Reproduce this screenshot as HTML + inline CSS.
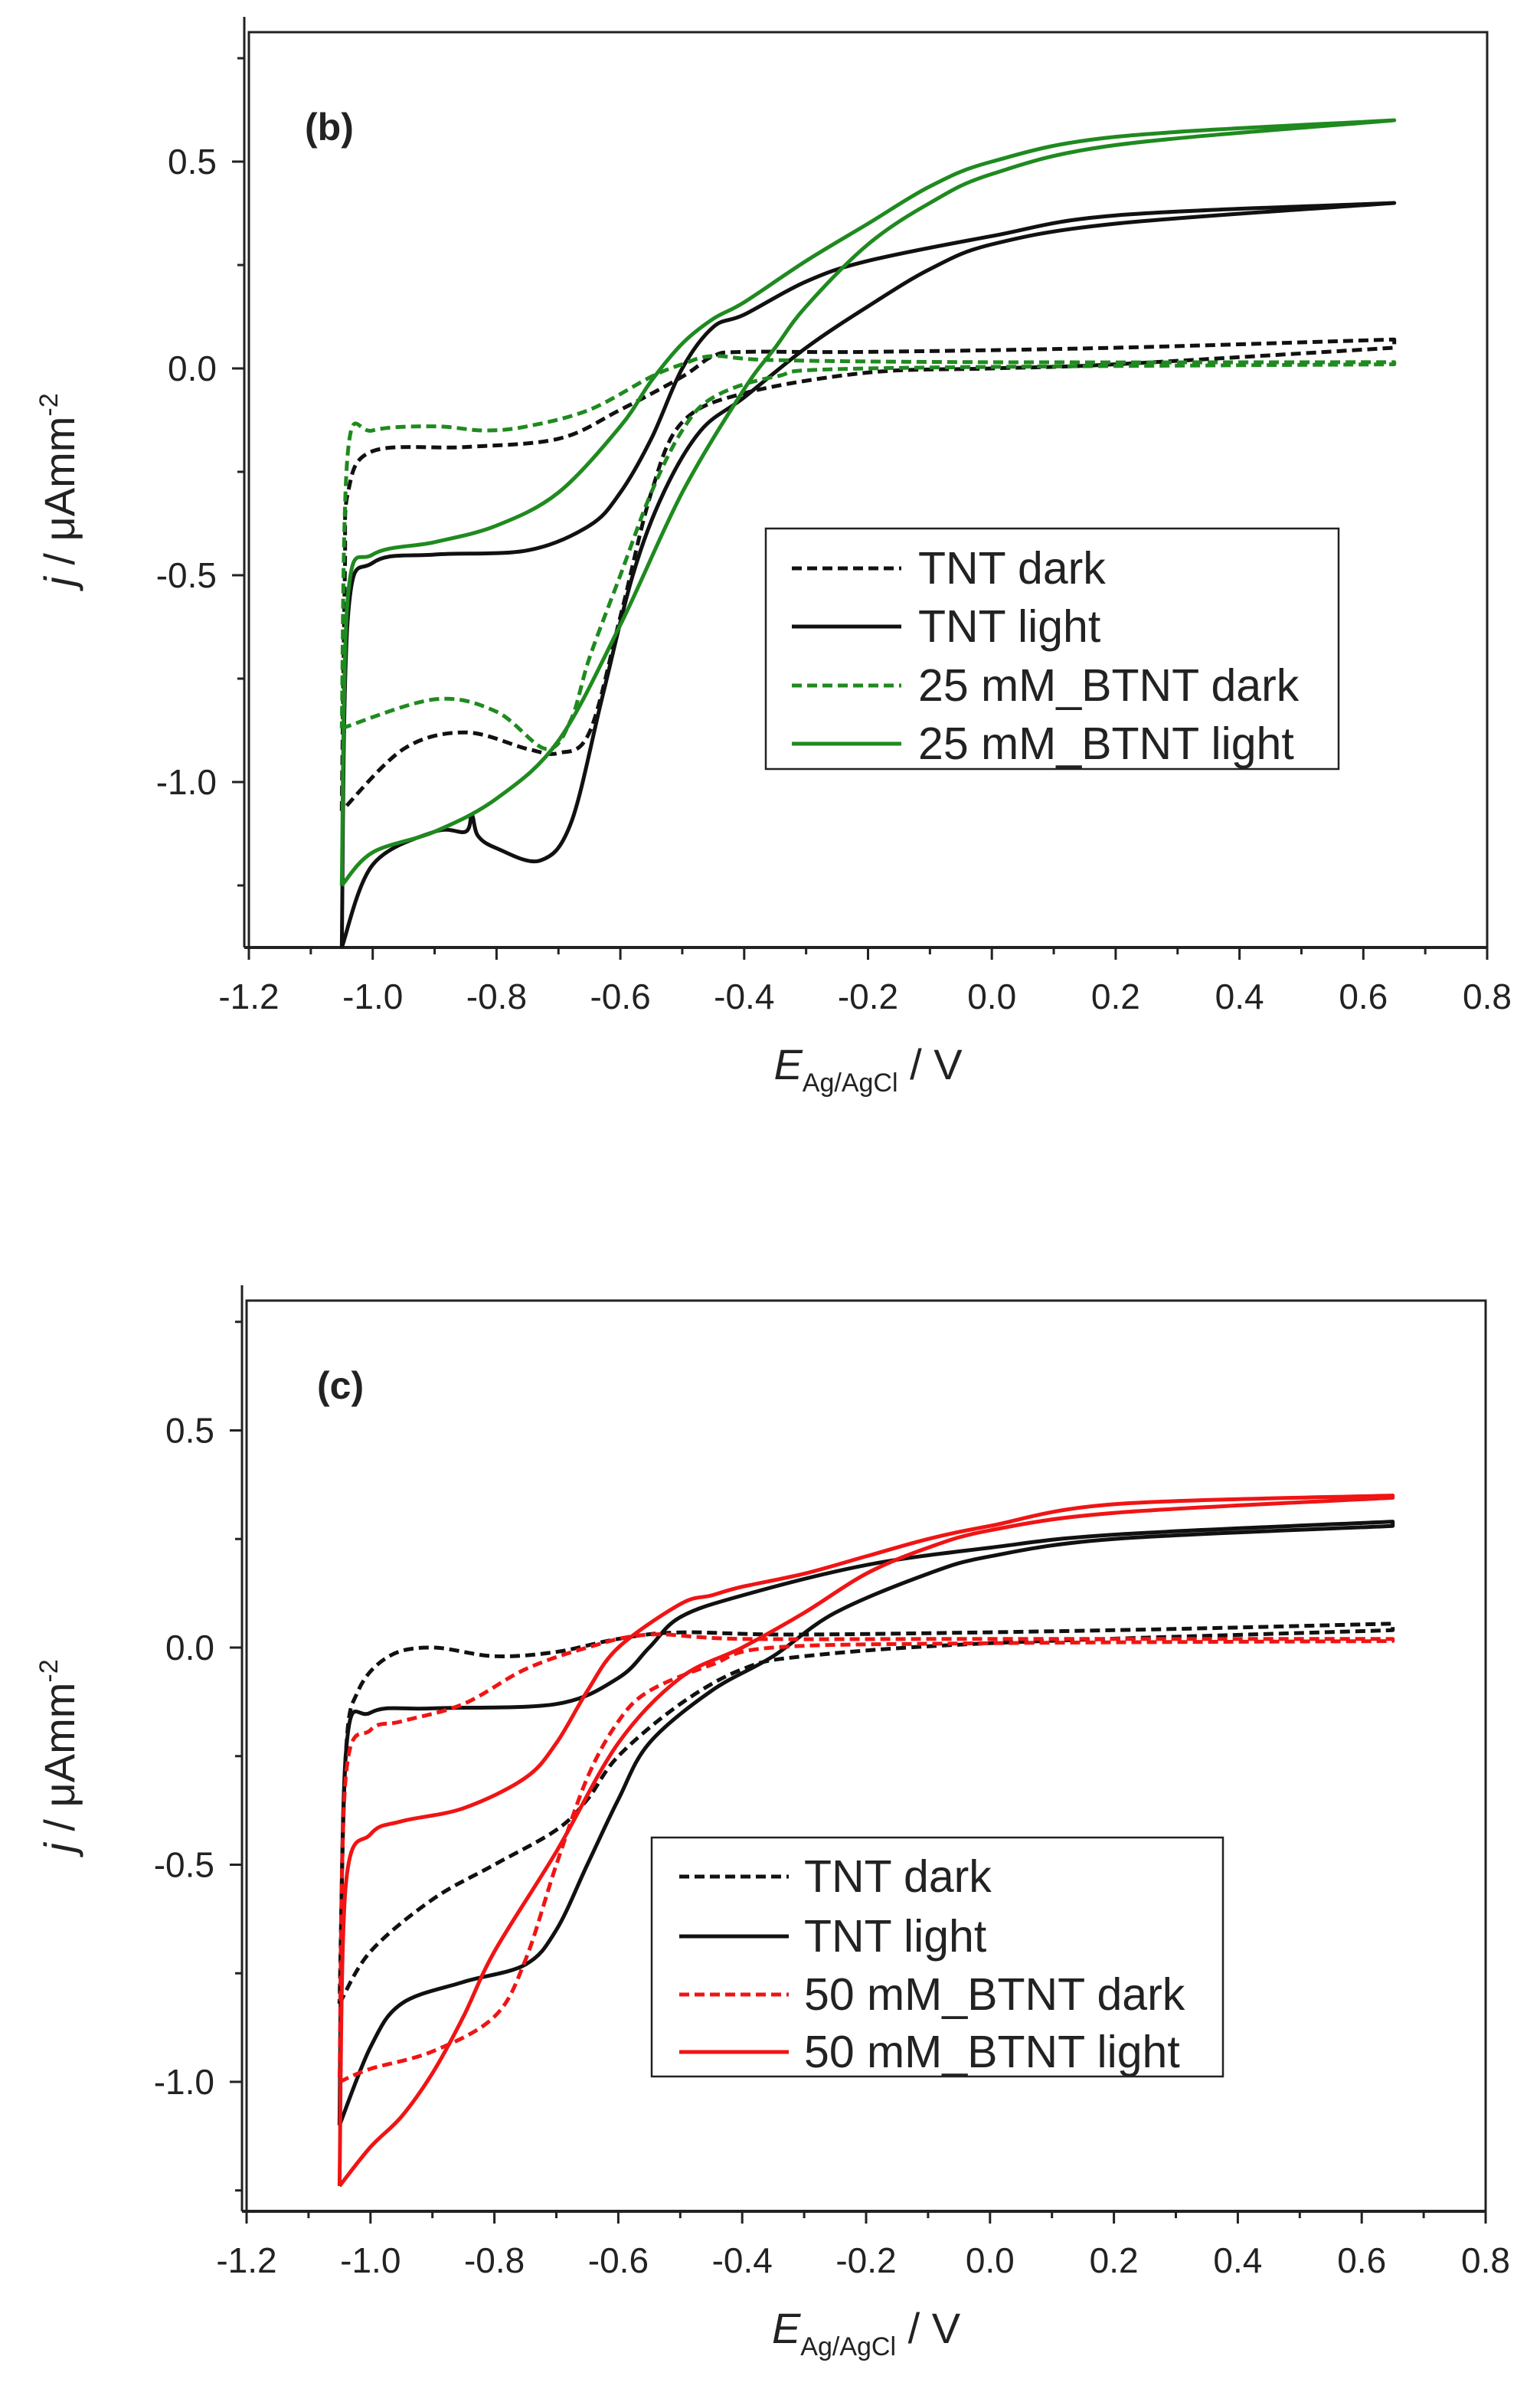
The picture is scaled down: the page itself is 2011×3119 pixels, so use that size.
<!DOCTYPE html>
<html><head><meta charset="utf-8"><style>
html,body{margin:0;padding:0;background:#fff}
svg{display:block}
text{font-family:"Liberation Sans",Arial,sans-serif;fill:#222}
</style></head><body>
<svg id="s" width="2011" height="3119" viewBox="0 0 2011 3119" xmlns="http://www.w3.org/2000/svg"></svg>
<script>
const S=document.getElementById('s');let h='';
function seg(P,first){let d=first?'M'+P[0][0].toFixed(1)+','+P[0][1].toFixed(1):'L'+P[0][0].toFixed(1)+','+P[0][1].toFixed(1);
 for(let i=0;i<P.length-1;i++){const p0=P[Math.max(0,i-1)],p1=P[i],p2=P[i+1],p3=P[Math.min(P.length-1,i+2)];
  const c1=[p1[0]+(p2[0]-p0[0])/6,p1[1]+(p2[1]-p0[1])/6],c2=[p2[0]-(p3[0]-p1[0])/6,p2[1]-(p3[1]-p1[1])/6];
  d+=`C${c1[0].toFixed(1)},${c1[1].toFixed(1)} ${c2[0].toFixed(1)},${c2[1].toFixed(1)} ${p2[0].toFixed(1)},${p2[1].toFixed(1)}`;}
 return d;}
function smooth(P,raw){let i=raw.findIndex(q=>q[0]>=0.65);let j=i;while(j+1<raw.length&&raw[j+1][0]>=0.65)j++;
 return seg(P.slice(0,i+1),true)+seg(P.slice(j),false);}
function panel(o){
 const X=v=>o.L+(v+1.2)/2*(o.R-o.L);
 const Y=v=>o.y0-v*o.k;
 h+=`<rect x="${o.L}" y="${o.T}" width="${o.R-o.L}" height="${o.B-o.T}" fill="none" stroke="#222" stroke-width="3"/>`;
 h+=`<line x1="${o.L-6}" y1="${o.T-20}" x2="${o.L-6}" y2="${o.B}" stroke="#222" stroke-width="3"/>`;
 h+=`<line x1="${o.L-6}" y1="${o.B}" x2="${o.R}" y2="${o.B}" stroke="#222" stroke-width="4"/>`;
 for(let i=0;i<=20;i++){const v=-1.2+i*0.1,x=X(v),maj=i%2==0;
  h+=`<line x1="${x}" y1="${o.B}" x2="${x}" y2="${o.B+(maj?16:9)}" stroke="#222" stroke-width="3"/>`;
  if(maj){let t=v.toFixed(1);if(t=="-0.0")t="0.0";h+=`<text x="${x}" y="${o.B+80}" font-size="46" text-anchor="middle">${t}</text>`;}}
 for(let v=-1.25;v<=0.76;v+=0.25){const y=Y(v);if(y<o.T-20||y>o.B)continue;const maj=Math.abs(v*2-Math.round(v*2))<1e-6;
  h+=`<line x1="${o.L-6}" y1="${y}" x2="${o.L-(maj?22:15)}" y2="${y}" stroke="#222" stroke-width="3"/>`;
  if(maj)h+=`<text x="${o.L-42}" y="${y+16}" font-size="46" text-anchor="end">${v.toFixed(1)}</text>`;}
 h+=`<text x="${(o.L+o.R)/2}" y="${o.B+172}" font-size="56" text-anchor="middle"><tspan font-style="italic">E</tspan><tspan font-size="34" dy="16">Ag/AgCl</tspan><tspan dy="-16"> / V</tspan></text>`;
 const yc=(o.T+o.B)/2;
 h+=`<text transform="translate(97,${yc}) rotate(-90)" font-size="56" text-anchor="middle"><tspan font-style="italic">j</tspan> / μAmm<tspan font-size="34" dy="-22">-2</tspan></text>`;
 h+=`<text x="${o.lx}" y="${o.ly}" font-size="50" font-weight="bold">${o.lab}</text>`;
 o.series.forEach(s=>{const P=s.p.map(q=>[X(q[0]),Y(q[1])]);
  h+=`<path d="${smooth(P,s.p)}" fill="none" stroke="${s.c}" stroke-width="5" ${s.dash?'stroke-dasharray="13,7"':''} stroke-linejoin="round"/>`;});
 const g=o.leg;h+=`<rect x="${g.x}" y="${g.y}" width="${g.w}" height="${g.h}" fill="#fff" stroke="#222" stroke-width="2.5"/>`;
 o.series.forEach((s,i)=>{const yy=g.r[i];
  h+=`<line x1="${g.lx1}" y1="${yy}" x2="${g.lx2}" y2="${yy}" stroke="${s.c}" stroke-width="5" ${s.dash?'stroke-dasharray="13,7"':''}/>`;
  h+=`<text x="${g.tx}" y="${yy+20}" font-size="59">${s.n}</text>`;});
}
const G='#1f8a1f',Rd='#f01414',K='#111';
panel({L:325,R:1942,T:42,B:1237,y0:481,k:540,lab:'(b)',lx:398,ly:183,
 leg:{x:1000,y:690,w:748,h:314,lx1:1034,lx2:1177,tx:1199,r:[742,818,895,971]},
 series:[
 {n:'TNT dark',c:K,dash:1,p:[[-1.05,-1.07],[-1.045,-0.5],[-1.04,-0.3],[-1.0,-0.2],[-0.85,-0.19],[-0.7,-0.17],[-0.6,-0.1],[-0.5,-0.02],[-0.45,0.03],[-0.4,0.04],[-0.2,0.04],[0.2,0.05],[0.65,0.07],[0.65,0.05],[0.2,0.01],[0,0],[-0.2,-0.01],[-0.4,-0.06],[-0.5,-0.13],[-0.55,-0.3],[-0.6,-0.6],[-0.65,-0.88],[-0.7,-0.93],[-0.75,-0.92],[-0.85,-0.88],[-0.95,-0.92],[-1.05,-1.07]]},
 {n:'TNT light',c:K,p:[[-1.05,-1.4],[-1.0,-1.2],[-0.9,-1.12],[-0.85,-1.12],[-0.84,-1.08],[-0.83,-1.13],[-0.8,-1.16],[-0.73,-1.19],[-0.68,-1.1],[-0.63,-0.8],[-0.58,-0.5],[-0.53,-0.3],[-0.47,-0.15],[-0.4,-0.07],[-0.3,0.05],[-0.2,0.15],[-0.1,0.24],[0,0.3],[0.2,0.35],[0.65,0.4],[0.2,0.37],[0,0.32],[-0.2,0.26],[-0.3,0.21],[-0.4,0.13],[-0.45,0.1],[-0.5,0],[-0.55,-0.17],[-0.6,-0.3],[-0.65,-0.38],[-0.75,-0.44],[-0.9,-0.45],[-1.0,-0.47],[-1.04,-0.6],[-1.05,-1.4]]},
 {n:'25 mM_BTNT dark',c:G,dash:1,p:[[-1.05,-0.87],[-0.9,-0.8],[-0.8,-0.83],[-0.72,-0.92],[-0.68,-0.85],[-0.65,-0.7],[-0.6,-0.5],[-0.55,-0.3],[-0.5,-0.15],[-0.45,-0.07],[-0.35,-0.02],[-0.2,0],[0.65,0.01],[0.65,0.015],[0,0.015],[-0.35,0.02],[-0.45,0.03],[-0.5,0.01],[-0.55,-0.02],[-0.65,-0.1],[-0.75,-0.14],[-0.82,-0.15],[-0.9,-0.14],[-1.0,-0.15],[-1.04,-0.2],[-1.05,-0.87]]},
 {n:'25 mM_BTNT light',c:G,p:[[-1.05,-1.25],[-1.0,-1.17],[-0.9,-1.12],[-0.8,-1.04],[-0.7,-0.9],[-0.6,-0.62],[-0.5,-0.3],[-0.4,-0.05],[-0.35,0.05],[-0.3,0.15],[-0.2,0.3],[-0.1,0.4],[0,0.47],[0.2,0.54],[0.65,0.6],[0.2,0.56],[0,0.5],[-0.1,0.44],[-0.2,0.35],[-0.3,0.26],[-0.4,0.16],[-0.45,0.12],[-0.5,0.06],[-0.55,-0.03],[-0.6,-0.14],[-0.7,-0.3],[-0.8,-0.38],[-0.9,-0.42],[-1.0,-0.45],[-1.04,-0.55],[-1.05,-1.25]]}
 ]});
panel({L:322,R:1940,T:1698,B:2887,y0:2151,k:567,lab:'(c)',lx:414,ly:1826,
 leg:{x:851,y:2399,w:746,h:312,lx1:887,lx2:1030,tx:1050,r:[2450,2528,2604,2679]},
 series:[
 {n:'TNT dark',c:K,dash:1,p:[[-1.05,-0.82],[-1.0,-0.7],[-0.9,-0.58],[-0.8,-0.5],[-0.7,-0.42],[-0.65,-0.35],[-0.6,-0.25],[-0.5,-0.13],[-0.4,-0.05],[-0.3,-0.02],[0,0.01],[0.65,0.04],[0.65,0.055],[0.2,0.04],[-0.3,0.03],[-0.5,0.035],[-0.6,0.02],[-0.7,-0.01],[-0.8,-0.02],[-0.9,0],[-0.97,-0.02],[-1.02,-0.1],[-1.04,-0.25],[-1.05,-0.82]]},
 {n:'TNT light',c:K,p:[[-1.05,-1.1],[-1.0,-0.92],[-0.95,-0.82],[-0.85,-0.77],[-0.75,-0.73],[-0.7,-0.65],[-0.65,-0.5],[-0.6,-0.35],[-0.55,-0.22],[-0.45,-0.1],[-0.35,-0.02],[-0.25,0.08],[-0.1,0.17],[0,0.21],[0.2,0.25],[0.65,0.28],[0.65,0.29],[0.2,0.26],[0,0.23],[-0.2,0.19],[-0.4,0.12],[-0.5,0.07],[-0.55,0],[-0.6,-0.07],[-0.7,-0.13],[-0.9,-0.14],[-1.0,-0.15],[-1.04,-0.25],[-1.05,-1.1]]},
 {n:'50 mM_BTNT dark',c:Rd,dash:1,p:[[-1.05,-1.0],[-1.0,-0.97],[-0.9,-0.93],[-0.8,-0.85],[-0.75,-0.72],[-0.7,-0.5],[-0.65,-0.3],[-0.6,-0.17],[-0.55,-0.1],[-0.45,-0.04],[-0.35,0],[0,0.01],[0.65,0.015],[0.65,0.02],[0,0.02],[-0.4,0.02],[-0.55,0.03],[-0.65,0],[-0.75,-0.05],[-0.85,-0.13],[-0.95,-0.17],[-1.0,-0.19],[-1.04,-0.3],[-1.05,-1.0]]},
 {n:'50 mM_BTNT light',c:Rd,p:[[-1.05,-1.24],[-1.0,-1.15],[-0.95,-1.08],[-0.9,-0.98],[-0.85,-0.85],[-0.8,-0.7],[-0.7,-0.47],[-0.6,-0.22],[-0.5,-0.07],[-0.4,0],[-0.3,0.08],[-0.2,0.17],[-0.1,0.23],[0,0.27],[0.2,0.31],[0.65,0.345],[0.65,0.35],[0.2,0.33],[0,0.28],[-0.1,0.25],[-0.2,0.21],[-0.3,0.17],[-0.4,0.14],[-0.45,0.12],[-0.5,0.1],[-0.6,0],[-0.65,-0.1],[-0.7,-0.22],[-0.75,-0.3],[-0.85,-0.37],[-0.95,-0.4],[-1.0,-0.43],[-1.04,-0.55],[-1.05,-1.24]]}
 ]});
S.innerHTML=h;
</script>
</body></html>
